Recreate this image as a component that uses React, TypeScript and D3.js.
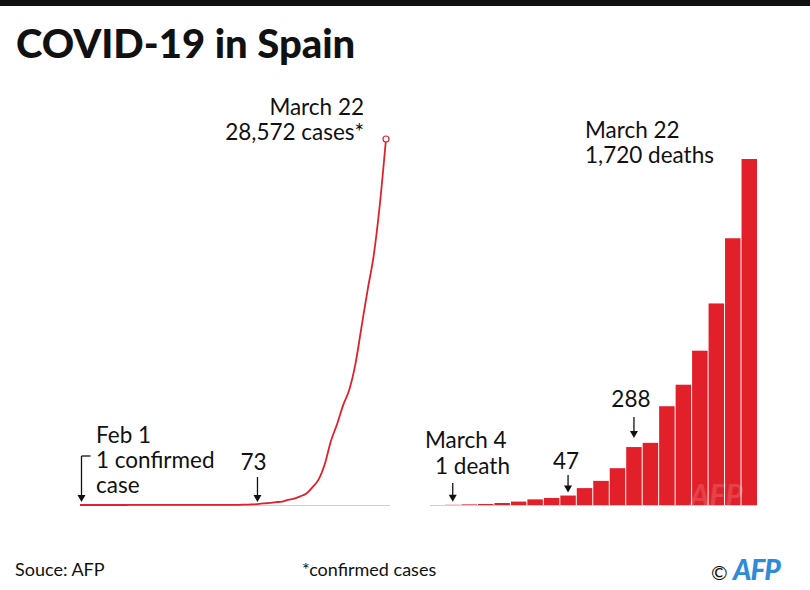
import * as d3 from "d3"

// confirmed cases, one value per day from Feb 1 to March 22
const caseStart = new Date(2020, 1, 1)
const caseEnd = new Date(2020, 2, 22)
const cases = [
	1, 1, 1, 1, 1, 1, 1, 1,
	2, 2, 2, 2, 2, 2, 2, 2, 2, 2, 2, 2, 2, 2, 2, 2,
	6, 13, 15, 32, 45, 73, 120, 165, 222, 259, 400, 500, 673, 900, 1400, 2000,
	3200, 5000, 6300, 7800, 9000, 11000, 13900, 16800, 19500, 23500, 28572,
]

// deaths per day, March 4 to March 22
const deathDays = [
	"Mar 4", "Mar 5", "Mar 6", "Mar 7", "Mar 8", "Mar 9", "Mar 10", "Mar 11", "Mar 12", "Mar 13",
	"Mar 14", "Mar 15", "Mar 16", "Mar 17", "Mar 18", "Mar 19", "Mar 20", "Mar 21", "Mar 22",
]
const deaths = [1, 3, 5, 10, 17, 28, 35, 47, 84, 120, 183, 288, 309, 491, 598, 767, 1002, 1326, 1720]

const W = 810
const H = 590
const RED = "#e1202a"
const INK = "#111"
const FONT = "Lato, 'Open Sans', sans-serif"

const Arrow = ({ x, y1, y2 }: { x: number; y1: number; y2: number }) => (
	<g>
		<line x1={x} x2={x} y1={y1} y2={y2 - 5} stroke={INK} strokeWidth={1.3} />
		<path d={`M${x - 4},${y2 - 7}L${x + 4},${y2 - 7}L${x},${y2}Z`} fill={INK} />
	</g>
)

const App = () => {
	const dates = d3.timeDay.range(caseStart, d3.timeDay.offset(caseEnd, 1))
	const xCases = d3.scaleTime().domain([caseStart, caseEnd]).range([80, 386])
	const yCases = d3.scaleLinear().domain([0, d3.max(cases)!]).range([505, 139])
	const line = d3
		.line<number>()
		.x((_, i) => xCases(dates[i]))
		.y((d) => yCases(d))
		.curve(d3.curveMonotoneX)

	const xDeaths = d3.scaleBand().domain(deathDays).range([445, 757]).paddingInner(0.06)
	const yDeaths = d3.scaleLinear().domain([0, d3.max(deaths)!]).range([505, 159])

	const last = cases.length - 1
	const i73 = cases.indexOf(73)
	const x73 = xCases(dates[i73])
	const xFeb = xCases(dates[0]) + 1.5

	const barMid = (i: number) => xDeaths(deathDays[i])! + xDeaths.bandwidth() / 2
	const i47 = deaths.indexOf(47)
	const i288 = deaths.indexOf(288)

	const txt = { fontFamily: FONT, fontSize: 22.5, fill: INK }

	return (
		<svg width={W} height={H} style={{ position: "absolute", left: 0, top: 0, background: "#fff" }}>
			<rect x={0} y={0} width={W} height={6} fill={INK} />
			<text x={16} y={58} fontFamily={FONT} fontWeight={900} fontSize={40} fill={INK}>
				COVID-19 in Spain
			</text>

			{/* left: confirmed cases */}
			<line x1={80} x2={390} y1={505.5} y2={505.5} stroke="#cfcfcf" strokeWidth={1} />
			<path d={line(cases)!} fill="none" stroke={RED} strokeWidth={1.8} />
			<circle cx={xCases(dates[last])} cy={yCases(cases[last])} r={3} fill="#fff" stroke={RED} strokeWidth={1.2} />

			<text {...txt} x={364} y={115} textAnchor="end">March 22</text>
			<text {...txt} x={364} y={140} textAnchor="end">28,572 cases*</text>

			<text {...txt} x={96} y={443}>Feb 1</text>
			<text {...txt} x={96} y={468}>1 confirmed</text>
			<text {...txt} x={96} y={493}>case</text>
			<path d={`M${xFeb + 9},456H${xFeb}`} stroke={INK} strokeWidth={1.3} fill="none" />
			<Arrow x={xFeb} y1={456} y2={502} />

			<text {...txt} x={x73 - 4} y={470} textAnchor="middle">73</text>
			<Arrow x={x73} y1={477} y2={502} />

			{/* right: deaths */}
			<line x1={430} x2={757} y1={505.5} y2={505.5} stroke="#cfcfcf" strokeWidth={1} />
			{deaths.map((d, i) => (
				<rect
					key={deathDays[i]}
					x={xDeaths(deathDays[i])}
					y={yDeaths(d)}
					width={xDeaths.bandwidth()}
					height={yDeaths(0) - yDeaths(d)}
					fill={RED}
				/>
			))}
			<text x={690} y={506} fontFamily={FONT} fontWeight={700} fontStyle="italic" fontSize={30} fill="#fff" opacity={0.15}>
				AFP
			</text>

			<text {...txt} x={585} y={138}>March 22</text>
			<text {...txt} x={585} y={163}>1,720 deaths</text>

			<text {...txt} x={425} y={448}>March 4</text>
			<text {...txt} x={435} y={474}>1 death</text>
			<Arrow x={barMid(0)} y1={483} y2={yDeaths(deaths[0]) - 3} />

			<text {...txt} x={barMid(i47) - 2} y={469} textAnchor="middle">47</text>
			<Arrow x={barMid(i47)} y1={475} y2={yDeaths(47) - 3} />

			<text {...txt} x={barMid(i288) - 3} y={407} textAnchor="middle">288</text>
			<Arrow x={barMid(i288)} y1={417} y2={yDeaths(288) - 9} />

			{/* footer */}
			<text x={15} y={576} fontFamily={FONT} fontSize={18} fill={INK}>Souce: AFP</text>
			<text x={302} y={576} fontFamily={FONT} fontSize={18} fill={INK}>*confirmed cases</text>
			<text x={711} y={580} fontFamily={FONT} fontSize={20} fill={INK}>©</text>
			<text x={733} y={580} fontFamily={FONT} fontWeight={900} fontStyle="italic" fontSize={28} fill="#2f8ad8" letterSpacing={-1}>
				AFP
			</text>
		</svg>
	)
}

export default App
